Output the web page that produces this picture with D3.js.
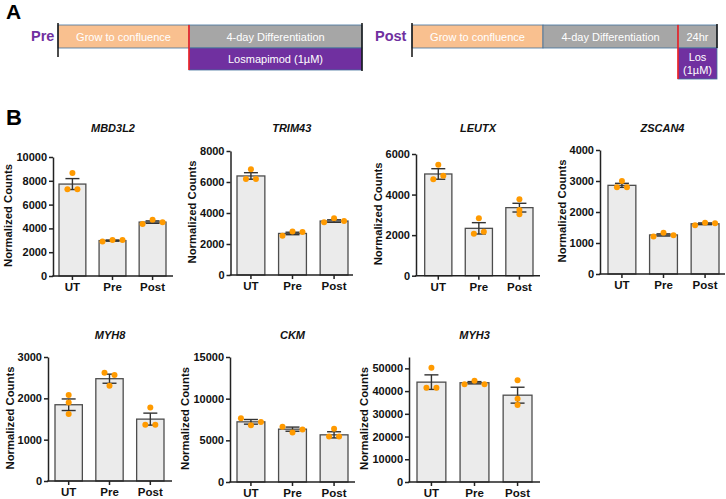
<!DOCTYPE html>
<html><head><meta charset="utf-8">
<script src="https://cdn.jsdelivr.net/npm/d3@7"></script>
<style>body{margin:0;background:#fff} svg{display:block}</style>
</head><body><svg id="c" width="726" height="499"></svg>
<script>
// ---------- DATA ----------
const groups = ["UT", "Pre", "Post"];
const genes = ["MBD3L2", "TRIM43", "LEUTX", "ZSCAN4", "MYH8", "CKM", "MYH3"];
const yMax = [10000, 8000, 6000, 4000, 3000, 15000, 55000];
const yTicks = [
  [0, 2000, 4000, 6000, 8000, 10000],
  [0, 2000, 4000, 6000, 8000],
  [0, 2000, 4000, 6000],
  [0, 1000, 2000, 3000, 4000],
  [0, 1000, 2000, 3000],
  [0, 5000, 10000, 15000],
  [0, 10000, 20000, 30000, 40000, 50000]
];
const means = [
  [7725, 2975, 4530],
  [6390, 2680, 3480],
  [5015, 2335, 3355],
  [2860, 1260, 1620],
  [1845, 2475, 1497],
  [7220, 6340, 5660],
  [43940, 43670, 38200]
];
const sems = [
  [460, 50, 100],
  [210, 80, 80],
  [260, 280, 215],
  [65, 35, 28],
  [140, 110, 145],
  [280, 250, 370],
  [3200, 500, 3500]
];
const points = [
  [[7300, 8650, 7300], [2890, 3030, 3030], [4380, 4720, 4520]],
  [[6190, 6820, 6190], [2540, 2800, 2780], [3400, 3660, 3480]],
  [[4750, 5475, 4930], [2070, 2830, 2170], [3765, 3240, 3025]],
  [[2800, 3000, 2800], [1210, 1330, 1250], [1570, 1655, 1635]],
  [[2080, 1900, 1620], [2620, 2305, 2565], [1360, 1780, 1360]],
  [[7660, 6820, 7200], [6620, 5950, 6300], [5450, 6380, 5450]],
  [[41460, 50300, 41460], [43000, 44500, 43000], [44800, 36600, 33900]]
];
const yLabel = "Normalized Counts";
const preStages = ["Grow to confluence", "4-day Differentiation", "Losmapimod (1µM)"];
const postStages = ["Grow to confluence", "4-day Differentiation", "24hr", "Los", "(1µM)"];

// ---------- LAYOUT ----------
const layout = [
  {x0: 53, x1: 173, top: 157, base: 276, b0: 59, b1: 166, ty: 132, lx: 293},
  {x0: 230.5, x1: 353, top: 151, base: 275, b0: 237, b1: 348, ty: 132, lx: 292},
  {x0: 416, x1: 540, top: 154, base: 275.7, b0: 424.7, b1: 533, ty: 132, lx: 292},
  {x0: 600, x1: 725, top: 150, base: 274, b0: 608, b1: 719, ty: 132, lx: 291},
  {x0: 48, x1: 172, top: 357, base: 481, b0: 55, b1: 164, ty: 339, lx: 497},
  {x0: 230, x1: 355, top: 357, base: 482, b0: 237, b1: 348, ty: 339, lx: 497},
  {x0: 409, x1: 540, top: 357, base: 482, b0: 417, b1: 532, ty: 339, lx: 497}
];
const FONT = "'Liberation Sans', Arial, Helvetica, sans-serif";
const svg = d3.select("#c").style("font-family", FONT);

// ---------- PANEL A ----------
const gA = svg.append("g");
gA.append("text").attr("x", 6).attr("y", 19).attr("font-size", 21).attr("font-weight", "bold").text("A");
gA.append("text").attr("x", 6).attr("y", 125).attr("font-size", 22).attr("font-weight", "bold").text("B");

const cOrange = "#f9c08f", cGray = "#a6a6a6", cPurple = "#7030a0", cBorder = "#41719c";
function box(x0, x1, y0, y1, fill) {
  gA.append("rect").attr("x", x0).attr("y", y0).attr("width", x1 - x0).attr("height", y1 - y0)
    .attr("fill", fill).attr("stroke", cBorder).attr("stroke-width", 0.8);
}
function label(x, y, t, size) {
  gA.append("text").attr("x", x).attr("y", y).attr("text-anchor", "middle")
    .attr("font-size", size || 11).attr("fill", "#fff").text(t);
}
function vline(x, y0, y1, col, w) {
  gA.append("line").attr("x1", x).attr("x2", x).attr("y1", y0).attr("y2", y1)
    .attr("stroke", col).attr("stroke-width", w);
}
// Pre timeline
gA.append("text").attr("x", 31).attr("y", 41).attr("font-size", 14.5).attr("font-weight", "bold").attr("fill", cPurple).text("Pre");
box(58, 189, 25, 48, cOrange);
box(189, 362, 25, 48, cGray);
box(189, 362, 48, 70, cPurple);
label(123.5, 40.5, preStages[0]);
label(275.5, 40.5, preStages[1]);
label(275.5, 63, preStages[2]);
vline(58, 23, 57, "#111", 1.5);
vline(362, 23, 71, "#111", 1.5);
vline(189, 25, 70, "#ff1a1a", 1.5);
// Post timeline
gA.append("text").attr("x", 375).attr("y", 41).attr("font-size", 14.5).attr("font-weight", "bold").attr("fill", cPurple).text("Post");
box(412, 543, 25, 48, cOrange);
box(543, 678, 25, 48, cGray);
box(678, 717, 25, 48, cGray);
box(678, 717, 48, 79, cPurple);
label(477.5, 40.5, postStages[0]);
label(610.5, 40.5, postStages[1]);
label(697.5, 40.5, postStages[2]);
label(697.5, 60.5, postStages[3]);
label(697.5, 74, postStages[4]);
vline(412, 23, 57, "#111", 1.5);
vline(717, 24, 48, "#111", 1.5);
vline(678, 25, 79, "#ff1a1a", 1.5);

// ---------- PANEL B ----------
function layoutPoints(vals, y) {
  const items = vals.map((v, i) => ({v, i, py: y(v), dx: 0}));
  const sorted = items.slice().sort((a, b) => a.py - b.py);
  const clusters = [];
  let cur = [sorted[0]];
  for (let k = 1; k < sorted.length; k++) {
    if (sorted[k].py - sorted[k - 1].py < 4) cur.push(sorted[k]);
    else { clusters.push(cur); cur = [sorted[k]]; }
  }
  clusters.push(cur);
  clusters.forEach(c => {
    c.sort((a, b) => a.i - b.i);
    c.forEach((p, j) => p.dx = (j - (c.length - 1) / 2) * 10);
  });
  return items;
}

genes.forEach((gene, gi) => {
  const L = layout[gi];
  const g = svg.append("g");
  const y = d3.scaleLinear().domain([0, yMax[gi]]).range([L.base, L.top]);
  const x = d3.scaleBand().domain(groups).range([L.b0, L.b1]).paddingInner(0.33).paddingOuter(0);
  const bw = x.bandwidth();

  // bars
  g.selectAll("rect.bar").data(groups).join("rect")
    .attr("x", d => x(d)).attr("width", bw)
    .attr("y", (d, i) => y(means[gi][i]))
    .attr("height", (d, i) => L.base - y(means[gi][i]))
    .attr("fill", "#ebebeb").attr("stroke", "#4d4d4d").attr("stroke-width", 1.3);

  // error bars
  groups.forEach((grp, i) => {
    const cx = x(grp) + bw / 2;
    const m = means[gi][i], s = sems[gi][i];
    const eg = g.append("g").attr("stroke", "#333").attr("stroke-width", 1.4);
    eg.append("line").attr("x1", cx).attr("x2", cx).attr("y1", y(m - s)).attr("y2", y(m + s));
    [m - s, m + s].forEach(v => eg.append("line").attr("x1", cx - 7).attr("x2", cx + 7).attr("y1", y(v)).attr("y2", y(v)));
  });

  // points
  groups.forEach((grp, i) => {
    const cx = x(grp) + bw / 2;
    const pts = layoutPoints(points[gi][i], y);
    g.selectAll(null).data(pts).join("circle")
      .attr("cx", p => cx + p.dx).attr("cy", p => p.py).attr("r", 3)
      .attr("fill", "#ff9a00");
  });

  // y axis
  const ya = g.append("g").attr("transform", `translate(${L.x0},0)`)
    .call(d3.axisLeft(y).tickValues(yTicks[gi]).tickFormat(d3.format("d")).tickSize(4).tickSizeOuter(0).tickPadding(2));
  ya.select(".domain").attr("stroke", "#222").attr("stroke-width", 1.5);
  ya.selectAll(".tick line").attr("stroke", "#222").attr("stroke-width", 1.5);
  ya.selectAll(".tick text").attr("font-size", 11).attr("font-weight", "bold").attr("fill", "#111").attr("font-family", FONT);
  let maxW = 0;
  ya.selectAll(".tick text").each(function () { maxW = Math.max(maxW, this.getBBox().width); });

  // x axis
  const xa = g.append("g").attr("transform", `translate(0,${L.base})`)
    .call(d3.axisBottom(x).tickSize(4).tickSizeOuter(0).tickPadding(3));
  xa.select(".domain").remove();
  xa.selectAll(".tick line").attr("stroke", "#222").attr("stroke-width", 1.5);
  xa.selectAll(".tick text").attr("font-size", 11.5).attr("font-weight", "bold").attr("fill", "#111").attr("font-family", FONT);
  g.append("line").attr("x1", L.x0 - 0.75).attr("x2", L.x1).attr("y1", L.base).attr("y2", L.base)
    .attr("stroke", "#222").attr("stroke-width", 1.5);

  // y label
  const lx = L.x0 - 6 - maxW - 8;
  const ly = (L.top + L.base) / 2 - 1;
  g.append("text").attr("transform", `translate(${lx},${ly}) rotate(-90)`)
    .attr("text-anchor", "middle").attr("dominant-baseline", "central")
    .attr("font-size", 11.3).attr("font-weight", "bold").attr("fill", "#111").text(yLabel);

  // title
  g.append("text").attr("x", (L.x0 + L.x1) / 2).attr("y", L.ty).attr("text-anchor", "middle")
    .attr("font-size", 11).attr("font-weight", "bold").attr("font-style", "italic").attr("fill", "#111").text(gene);
});
</script>
</body></html>
